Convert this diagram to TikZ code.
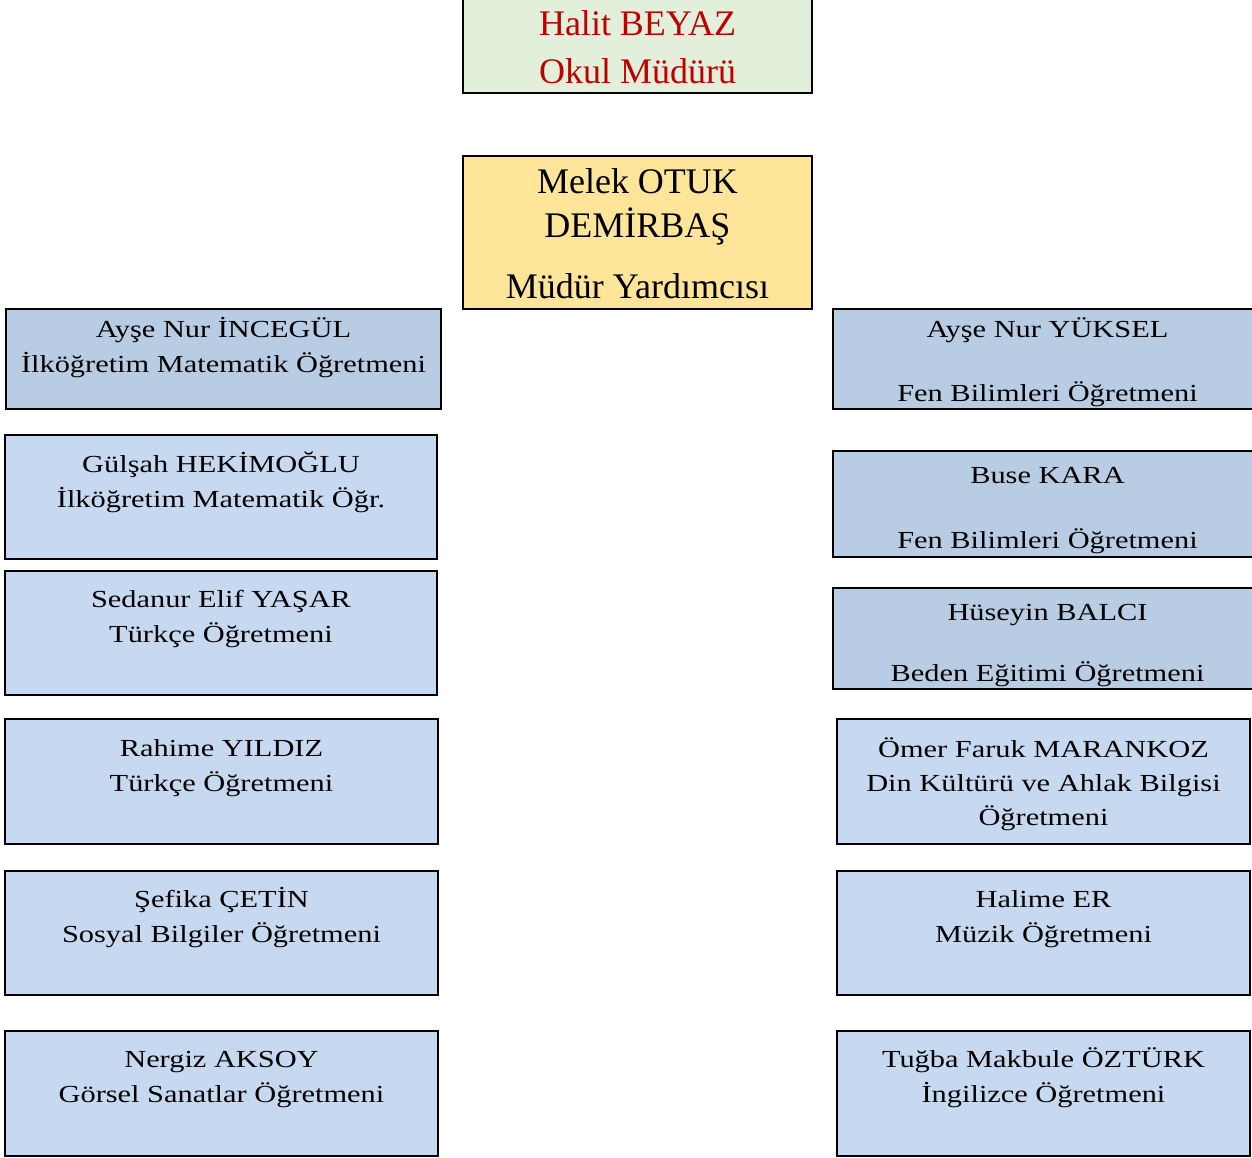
\documentclass[tikz,border=0pt]{standalone}
\usepackage{fontspec}
\setmainfont{Liberation Serif}
\newfontfamily\bodyfont{Liberation Serif}[FakeStretch=1.24]
\definecolor{topgreen}{HTML}{E2EFDA}
\definecolor{vicey}{HTML}{FFE599}
\definecolor{bluedk}{HTML}{B8CCE4}
\definecolor{bluelt}{HTML}{C6D9F0}
\definecolor{redtxt}{HTML}{C00000}
% #7 = baseline of the last text line
\newcommand\orgbox[8]{%
  \node[boxst, fill=#6, minimum width={#4-#2}, minimum height={#5-#3}, anchor=north west] (#1) at (#2,#3) {};
  \node[txtst, anchor=base] (#1t) at ({(#2+#4)/2},#7) {#8};
}
\begin{document}
\begin{tikzpicture}[x=1pt,y=-1pt,
  boxst/.style={draw=black, line width=2pt, inner sep=0pt, outer sep=0pt},
  txtst/.style={align=center, inner sep=0pt, font=\bodyfont\fontsize{24.5}{35}\selectfont},
  bigtxt/.style={align=center, inner sep=0pt}]
\useasboundingbox (0,0) rectangle (1252,1157);
\clip (0,0) rectangle (1252,1157);
% top
\node[boxst, fill=topgreen, minimum width=349, minimum height=100, anchor=north west] (dir) at (463,-7) {};
\node[bigtxt, anchor=base, text=redtxt, font=\fontsize{36}{48}\selectfont] (dirt) at (637.5,83) {Halit BEYAZ\\Okul Müdürü};
\node[boxst, fill=vicey, minimum width=349, minimum height=153, anchor=north west] (vice) at (463,156) {};
\node[bigtxt, anchor=base, font=\fontsize{36}{44}\selectfont] (vicet) at (637.5,298) {Melek OTUK\\DEMİRBAŞ\\[17pt]Müdür Yardımcısı};
% left column
\orgbox{L1}{6}{309}{441}{409}{bluedk}{372}{Ayşe Nur İNCEGÜL\\İlköğretim Matematik Öğretmeni}
\orgbox{L2}{5}{435}{437}{559}{bluelt}{507}{Gülşah HEKİMOĞLU\\İlköğretim Matematik Öğr.}
\orgbox{L3}{5}{571}{437}{695}{bluelt}{642}{Sedanur Elif YAŞAR\\Türkçe Öğretmeni}
\orgbox{L4}{5}{719}{438}{844}{bluelt}{791}{Rahime YILDIZ\\Türkçe Öğretmeni}
\orgbox{L5}{5}{871}{438}{995}{bluelt}{942}{Şefika ÇETİN\\Sosyal Bilgiler Öğretmeni}
\orgbox{L6}{5}{1031}{438}{1156}{bluelt}{1102}{Nergiz AKSOY\\Görsel Sanatlar Öğretmeni}
% right column
\orgbox{R1}{833}{309}{1262}{409}{bluedk}{401}{Ayşe Nur YÜKSEL\\[29pt]Fen Bilimleri Öğretmeni}
\orgbox{R2}{833}{451}{1262}{557}{bluedk}{548}{Buse KARA\\[30pt]Fen Bilimleri Öğretmeni}
\orgbox{R3}{833}{588}{1262}{689}{bluedk}{681}{Hüseyin BALCI\\[26pt]Beden Eğitimi Öğretmeni}
\orgbox{R4}{837}{719}{1250}{844}{bluelt}{825}{Ömer Faruk MARANKOZ\\[-1pt]Din Kültürü ve Ahlak Bilgisi\\[-1pt]Öğretmeni}
\orgbox{R5}{837}{871}{1250}{995}{bluelt}{942}{Halime ER\\Müzik Öğretmeni}
\orgbox{R6}{837}{1031}{1250}{1156}{bluelt}{1102}{Tuğba Makbule ÖZTÜRK\\İngilizce Öğretmeni}
\end{tikzpicture}
\end{document}
